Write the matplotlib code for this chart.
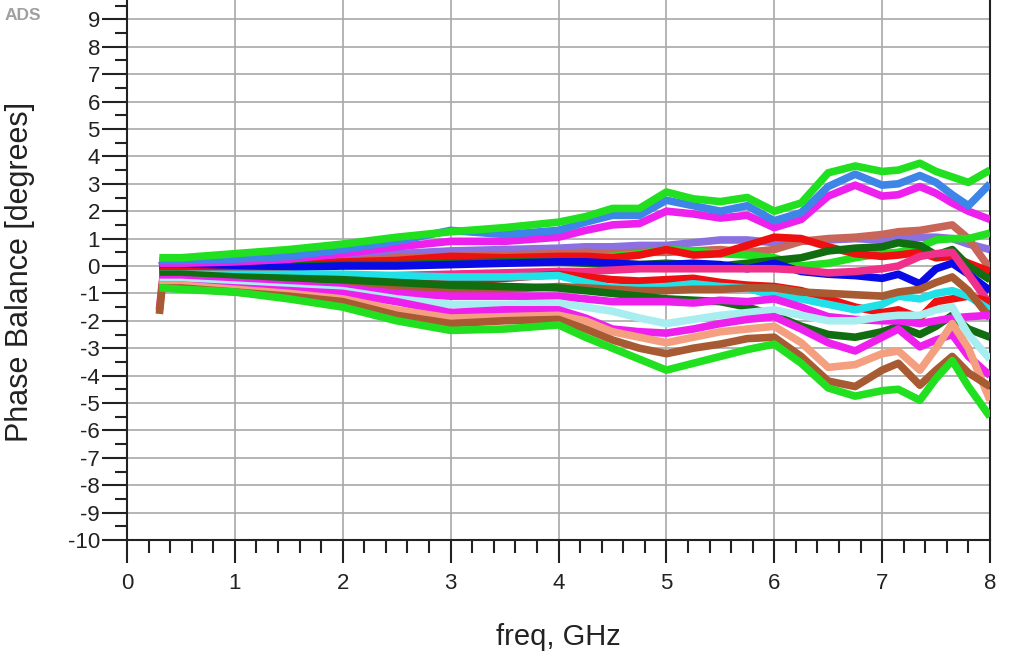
import matplotlib
matplotlib.use("Agg")
import matplotlib.pyplot as plt
from matplotlib.ticker import MultipleLocator

plt.rcParams['font.family'] = ['Liberation Sans', 'DejaVu Sans']
plt.rcParams['axes.unicode_minus'] = False

# frequency grid (GHz)
freq = [0.30, 0.33, 0.5, 1.0, 1.5, 2.0, 2.5, 3.0, 3.5, 4.0, 4.25, 4.5, 4.75, 5.0,
        5.25, 5.5, 5.75, 6.0, 6.25, 6.5, 6.75, 7.0, 7.15, 7.35, 7.5, 7.65, 7.8, 8.0]

# phase balance traces (degrees)
purple = [0.00, 0.05, 0.05, 0.10, 0.20, 0.30, 0.45, 0.55, 0.60, 0.65, 0.70, 0.70, 0.75, 0.75, 0.85, 0.95, 0.95, 0.85, 0.90, 0.95, 1.00, 0.95, 1.00, 1.05, 1.05, 1.00, 0.80, 0.60]
rosy = [-0.20, -0.20, -0.20, -0.10, 0.00, 0.15, 0.30, 0.35, 0.40, 0.45, 0.50, 0.45, 0.50, 0.50, 0.55, 0.60, 0.50, 0.60, 0.90, 1.00, 1.05, 1.15, 1.25, 1.30, 1.40, 1.50, 1.00, -0.10]
green_mid = [0.05, 0.05, 0.05, 0.05, 0.05, 0.10, 0.15, 0.20, 0.25, 0.30, 0.30, 0.35, 0.45, 0.60, 0.55, 0.45, 0.40, 0.30, 0.00, 0.10, 0.30, 0.45, 0.50, 0.70, 0.95, 1.00, 1.00, 1.20]
red = [0.00, 0.00, 0.00, 0.00, 0.05, 0.15, 0.20, 0.35, 0.30, 0.35, 0.35, 0.30, 0.40, 0.60, 0.40, 0.45, 0.75, 1.05, 1.00, 0.70, 0.45, 0.35, 0.40, 0.50, 0.30, 0.35, 0.10, -0.20]
dkgreen_mid = [-0.10, -0.10, -0.10, -0.05, 0.00, 0.05, 0.05, 0.10, 0.15, 0.15, 0.10, 0.10, 0.05, 0.10, 0.05, 0.00, 0.10, 0.20, 0.30, 0.55, 0.65, 0.70, 0.85, 0.75, 0.40, 0.60, 0.00, -0.50]
blue_dk = [-0.10, -0.10, -0.10, -0.10, -0.05, 0.00, 0.00, 0.05, 0.10, 0.15, 0.15, 0.10, 0.05, 0.05, 0.10, 0.05, -0.10, 0.10, -0.20, -0.30, -0.35, -0.45, -0.30, -0.65, -0.10, 0.10, -0.30, -0.90]
pink = [-1.60, -0.50, -0.50, -0.50, -0.45, -0.40, -0.35, -0.30, -0.25, -0.20, -0.20, -0.15, -0.10, -0.10, -0.10, -0.10, -0.10, -0.10, -0.15, -0.25, -0.20, -0.10, 0.00, 0.35, 0.45, 0.50, -0.30, -1.40]
red_low = [-0.20, -0.20, -0.20, -0.25, -0.30, -0.40, -0.50, -0.60, -0.45, -0.30, -0.40, -0.50, -0.55, -0.50, -0.45, -0.60, -0.70, -0.75, -0.90, -1.20, -1.50, -1.70, -1.60, -1.90, -1.30, -1.20, -1.10, -1.30]
cyan = [-0.30, -0.30, -0.30, -0.30, -0.30, -0.30, -0.35, -0.40, -0.40, -0.35, -0.60, -0.80, -0.80, -0.75, -0.65, -0.75, -0.80, -1.10, -1.20, -1.40, -1.60, -1.40, -1.10, -1.20, -1.00, -0.90, -1.10, -1.60]
brown_mid = [-1.75, -0.60, -0.60, -0.60, -0.70, -0.75, -0.80, -0.90, -0.85, -0.75, -0.80, -0.85, -0.90, -0.90, -0.85, -0.85, -0.80, -0.80, -0.95, -1.00, -1.05, -1.10, -0.95, -0.85, -0.60, -0.40, -0.90, -1.90]
dkgreen_low = [-0.30, -0.30, -0.30, -0.40, -0.45, -0.50, -0.60, -0.70, -0.75, -0.80, -0.90, -1.00, -1.10, -1.20, -1.25, -1.30, -1.50, -1.80, -2.20, -2.50, -2.60, -2.40, -2.20, -2.50, -2.20, -1.80, -2.30, -2.60]
fuchsia = [-0.50, -0.50, -0.50, -0.60, -0.70, -0.80, -1.00, -1.10, -1.10, -1.10, -1.20, -1.30, -1.30, -1.30, -1.35, -1.25, -1.30, -1.20, -1.50, -1.85, -1.95, -2.00, -2.00, -2.10, -2.00, -1.90, -1.85, -1.80]
ltcyan = [-0.60, -0.60, -0.60, -0.70, -0.80, -0.90, -1.20, -1.40, -1.40, -1.35, -1.50, -1.65, -1.90, -2.10, -1.95, -1.80, -1.70, -1.60, -1.80, -2.00, -2.00, -1.85, -1.80, -1.80, -1.60, -1.50, -2.50, -3.40]
magenta_low = [-0.70, -0.70, -0.70, -0.80, -0.90, -1.00, -1.30, -1.70, -1.60, -1.60, -1.90, -2.30, -2.40, -2.45, -2.30, -2.10, -1.95, -1.85, -2.30, -2.80, -3.10, -2.60, -2.30, -2.95, -2.70, -2.50, -3.30, -4.00]
salmon = [-0.70, -0.70, -0.70, -0.85, -1.00, -1.20, -1.60, -1.90, -1.85, -1.80, -2.00, -2.40, -2.60, -2.80, -2.60, -2.40, -2.30, -2.20, -2.80, -3.70, -3.60, -3.20, -3.10, -3.80, -3.00, -2.10, -3.00, -4.90]
brown_low = [-0.80, -0.80, -0.80, -0.95, -1.10, -1.30, -1.80, -2.10, -2.00, -1.95, -2.30, -2.70, -3.00, -3.20, -3.00, -2.85, -2.65, -2.60, -3.30, -4.20, -4.40, -3.80, -3.55, -4.35, -3.80, -3.30, -3.90, -4.40]
green_low = [-0.80, -0.80, -0.85, -0.95, -1.20, -1.50, -2.00, -2.35, -2.30, -2.15, -2.60, -3.00, -3.40, -3.80, -3.55, -3.30, -3.05, -2.85, -3.55, -4.45, -4.75, -4.55, -4.50, -4.90, -4.10, -3.45, -4.40, -5.50]
magenta_top = [0.10, 0.10, 0.10, 0.15, 0.25, 0.45, 0.70, 0.90, 0.90, 1.05, 1.30, 1.50, 1.55, 2.00, 1.90, 1.75, 1.85, 1.40, 1.70, 2.55, 2.95, 2.55, 2.60, 2.90, 2.65, 2.30, 2.00, 1.70]
blue_top = [0.20, 0.20, 0.20, 0.25, 0.35, 0.60, 0.90, 1.30, 1.15, 1.30, 1.60, 1.85, 1.85, 2.40, 2.20, 2.00, 2.20, 1.65, 1.95, 2.90, 3.35, 2.95, 3.00, 3.30, 3.05, 2.60, 2.20, 3.00]
green_top = [0.30, 0.30, 0.30, 0.45, 0.60, 0.80, 1.05, 1.25, 1.40, 1.60, 1.80, 2.10, 2.10, 2.70, 2.45, 2.35, 2.50, 2.00, 2.30, 3.40, 3.65, 3.45, 3.50, 3.75, 3.45, 3.25, 3.05, 3.50]

series = [
    (purple, '#8a70e0'), (rosy, '#c8665a'), (green_mid, '#20e020'), (red, '#ee1010'),
    (dkgreen_mid, '#106e10'), (blue_dk, '#0a0ae6'), (pink, '#f0308a'), (red_low, '#ee1010'),
    (cyan, '#20e0e8'), (brown_mid, '#a85a32'), (dkgreen_low, '#106e10'), (fuchsia, '#ee20ee'),
    (ltcyan, '#a8eef0'), (magenta_low, '#ee20ee'), (salmon, '#f4a080'), (brown_low, '#a85a32'),
    (green_low, '#20e020'), (magenta_top, '#ee20ee'), (blue_top, '#3d85e6'), (green_top, '#20e020'),
]

fig = plt.figure(figsize=(10.13, 6.66), dpi=100)
ax = fig.add_axes([127/1013, 126/666, 863/1013, 548/666])

for vals, col in series:
    ax.plot(freq, vals, color=col, lw=5.5, solid_joinstyle='round', solid_capstyle='butt', zorder=3)

ax.set_xlim(0, 8)
ax.set_ylim(-10, 10)
ax.xaxis.set_major_locator(MultipleLocator(1))
ax.xaxis.set_minor_locator(MultipleLocator(0.2))
ax.yaxis.set_major_locator(MultipleLocator(1))
ax.yaxis.set_minor_locator(MultipleLocator(0.5))
ax.grid(True, which='major', color='#a8a8a8', lw=1.2, zorder=1)

ax.tick_params(axis='x', which='major', direction='out', length=16.5, width=1.5,
               color='#222222', labelsize=16, pad=7, labelcolor='#222222')
ax.tick_params(axis='x', which='minor', direction='out', length=9.5, width=1.5, color='#222222')
ax.tick_params(axis='y', which='major', direction='out', length=18, width=1.5,
               color='#222222', labelsize=16, pad=1.5, labelcolor='#222222')
ax.tick_params(axis='y', which='minor', direction='out', length=8.6, width=1.5, color='#222222')

for s in ['left', 'bottom', 'right']:
    ax.spines[s].set_linewidth(1.5)
    ax.spines[s].set_color('#222222')
ax.spines['top'].set_visible(False)

ax.set_xlabel('freq, GHz', fontsize=21, color='#222222')
ax.xaxis.set_label_coords(0.5, -0.177)
ax.xaxis.label.set_va('center')
ax.set_ylabel('Phase Balance [degrees]', fontsize=22, color='#222222')
ax.yaxis.set_label_coords(-0.124, 0.49)
ax.yaxis.label.set_va('center')

fig.text(5/1013, 1 - 16/666, 'ADS', color='#a0a0a0', fontsize=12.5, fontweight='bold',
         va='center', ha='left')

fig.savefig('out.png', dpi=100)
